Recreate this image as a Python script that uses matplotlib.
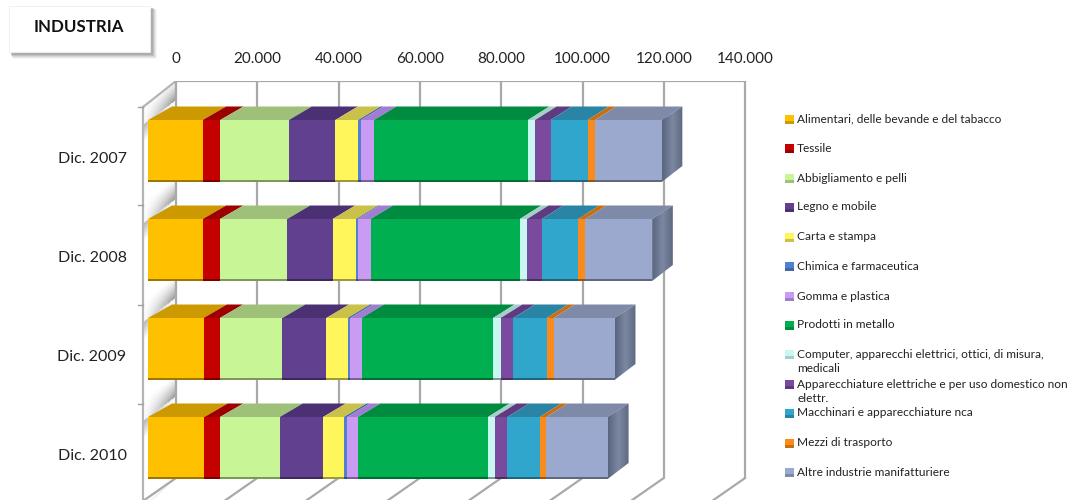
import numpy as np
import matplotlib
matplotlib.use("Agg")
import matplotlib.pyplot as plt
from matplotlib.patches import Polygon, Rectangle

plt.rcParams['font.family'] = ['Lato', 'DejaVu Sans']

years = ['Dic. 2007', 'Dic. 2008', 'Dic. 2009', 'Dic. 2010']
alimentari = [13400, 13400, 13600, 13800]
tessile = [4300, 4250, 4000, 3850]
abbigliamento = [16900, 16550, 15400, 14700]
legno = [11400, 11150, 10800, 10650]
carta = [5650, 5750, 5250, 5150]
chimica = [650, 400, 650, 750]
gomma = [3250, 3200, 2800, 2700]
metallo = [37850, 36700, 32300, 31950]
computer = [1800, 1800, 1900, 1700]
apparecchiature = [3750, 3600, 3100, 3100]
macchinari = [9150, 8950, 8200, 7950]
mezzi = [1800, 1800, 1700, 1650]
altre = [16400, 16400, 15000, 15050]

series = [alimentari, tessile, abbigliamento, legno, carta, chimica, gomma,
          metallo, computer, apparecchiature, macchinari, mezzi, altre]
labels = ['Alimentari, delle bevande e del tabacco', 'Tessile', 'Abbigliamento e pelli',
          'Legno e mobile', 'Carta e stampa', 'Chimica e farmaceutica', 'Gomma e plastica',
          'Prodotti in metallo', 'Computer, apparecchi elettrici, ottici, di misura,\nmedicali',
          'Apparecchiature elettriche e per uso domestico non\nelettr.',
          'Macchinari e apparecchiature nca', 'Mezzi di trasporto', 'Altre industrie manifatturiere']
front = ['#FFC000', '#C40000', '#C8F596', '#60408F', '#FFF65C', '#4F81D0', '#C99BF2',
         '#00B050', '#C9F7F2', '#7A4A9E', '#30A6CC', '#F98A1C', '#9BA9CF']
top = ['#CC9A00', '#9C0000', '#9FC078', '#4B3074', '#C9C14A', '#3F66A5', '#A07CD2',
       '#008C40', '#A6CFCB', '#5F3A80', '#2A84A6', '#C86F14', '#7E8AA8']
ticks = list(range(0, 140001, 20000))

W, H = 1075, 500
S = 81.3 / 20000            # pixels per unit on the back wall
X0, Y0, DY = 176, 151, 99   # back-wall zero, first bar centre, bar pitch

fig = plt.figure(figsize=(W / 100, H / 100), dpi=100)
AL, AR, AT, AB = 130, 760, 81, 500
ax = fig.add_axes([AL / W, 1 - AB / H, (AR - AL) / W, (AB - AT) / H])
xlim = ((AL - X0) / S, (AR - X0) / S)
ylim = ((AB - Y0) / DY, (AT - Y0) / DY)

def dx(px):
    return px / S

def dy(px):
    return px / DY

def py(p):
    return (p - Y0) / DY

def px(p):
    return (p - X0) / S

def grad(poly, arr, cmap='gray', vmin=0, vmax=1, z=1):
    xs, ys = zip(*poly)
    patch = Polygon(poly, closed=True, transform=ax.transData, fc='none', ec='none')
    ax.add_patch(patch)
    im = ax.imshow(arr, extent=(min(xs), max(xs), max(ys), min(ys)), aspect='auto',
                   cmap=cmap, vmin=vmin, vmax=vmax, zorder=z, interpolation='bilinear')
    im.set_clip_path(patch)

# left wall with banded shine
wall = [(px(176), py(81)), (px(143), py(107)), (px(143), py(510)), (px(176), py(478))]
gx, gy = np.meshgrid(np.linspace(0, 1, 34), np.linspace(81, 510, 430))
s = ((gy + 24 * (gx - 1) - 100) % 99) / 99
shade = 1 - 0.42 * np.clip((s - 0.78) / 0.22, 0, 1) ** 1.2 * gx - 0.30 * np.clip(1 - s / 0.18, 0, 1) * (1 - gx)
grad(wall, shade, z=1)
GC = '#a9a9a9'
ax.plot([px(143), px(143)], [py(107), py(510)], color='#b5b5b5', lw=1.6, zorder=2)
ax.plot([px(176), px(143)], [py(81), py(107)], color='#b5b5b5', lw=1.6, zorder=2)
for t in [107, 205, 305, 404]:
    ax.plot([px(138), px(143)], [py(t), py(t)], color='#a0a0a0', lw=1, zorder=2)

# gridlines, top rail, floor
ax.vlines(ticks, py(81), py(478), color=GC, lw=1.6, zorder=2)
ax.plot([0, ticks[-1]], [py(81), py(81)], color=GC, lw=1.6, zorder=2)
for t in ticks:
    ax.plot([t, t + dx(-33)], [py(478), py(501)], color=GC, lw=1.6, zorder=2)

# bars
FX = dx(148.3 - 176)
BX = dx(172 - 176)
HALF = dy(31)
TD = dy(13.5)
for i in range(len(years)):
    left = 0
    for k, vals in enumerate(series):
        v = vals[i]
        x0, x1 = left + FX, left + v + FX
        b0, b1 = left * 0.994 + BX, (left + v) * 0.994 + BX
        yt, yb = i - HALF, i + HALF
        ax.add_patch(Polygon([(x0, yt), (b0, yt - TD), (b1, yt - TD), (x1, yt)],
                             fc=top[k], ec='none', zorder=3))
        ax.add_patch(Rectangle((x0, yt), v, 2 * HALF, fc=front[k], ec='none', zorder=4))
        dark = [c * 0.62 for c in matplotlib.colors.to_rgb(front[k])]
        ax.add_patch(Rectangle((x0, yb - dy(1.6)), v, dy(1.6), fc=dark, ec='none', zorder=5))
        left += v
    xe, be = left + FX, left * 0.994 + BX
    yt, yb = i - HALF, i + HALF
    side = [(xe, yt), (be, yt - TD), (be, yb - dy(16)), (xe, yb)]
    g = np.linspace(0, 1, 30)[None, :] * np.ones((10, 1))
    cm = matplotlib.colors.LinearSegmentedColormap.from_list('s', ['#5A667F', '#7C88A2', '#5F6A82'])
    grad(side, g, cmap=cm, z=4)

ax.set_xlim(*xlim)
ax.set_ylim(*ylim)
ax.set_xticks(ticks)
ax.set_xticklabels([f'{t:,}'.replace(',', '.') for t in ticks], fontsize=11, color='#222222')
ax.xaxis.tick_top()
ax.set_yticks([i + 0.07 for i in range(len(years))])
ax.set_yticklabels(years, fontsize=11.5, color='#222222')
ax.tick_params(axis='x', length=0, pad=11)
ax.tick_params(axis='y', length=0, pad=2.5)
for sp in ax.spines.values():
    sp.set_visible(False)
ax.patch.set_alpha(0)

# overlay in pixel units: legend and box
ov = fig.add_axes([0, 0, 1, 1], zorder=10)
ov.set_xlim(0, W)
ov.set_ylim(H, 0)
ov.axis('off')
ov.patch.set_alpha(0)
legend_y = [119, 148, 178, 207, 237, 266, 296, 325, 354, 384, 413, 443, 472]
for y, lab, c, c2 in zip(legend_y, labels, front, top):
    ov.add_patch(Rectangle((785, y - 4.5), 9, 9, fc=c, ec='none'))
    ov.add_patch(Rectangle((785, y + 1.5), 9, 3, fc=c2, ec='none'))
    if '\n' in lab:
        a, b = lab.split('\n')
        ov.text(797, y, a, fontsize=8.6, va='center', ha='left', color='#222222')
        ov.text(797, y + 15, b, fontsize=8.6, va='center', ha='left', color='#222222')
    else:
        ov.text(797, y, lab, fontsize=8.6, va='center', ha='left', color='#222222')

for off, a in [(7, .06), (6, .1), (5, .14), (4, .2), (3, .25)]:
    ov.add_patch(Rectangle((9 + off / 2, 6 + off / 2), 141 + off / 2, 46 + off / 2, fc='#707070', alpha=a, ec='none'))
ov.add_patch(Rectangle((9, 6), 141, 46, fc='white', ec='#efefef', lw=.6))
ov.text(79, 27.5, 'INDUSTRIA', fontsize=12.2, fontweight='bold', ha='center', va='center', color='#111111')

fig.savefig('out.png', dpi=100)
